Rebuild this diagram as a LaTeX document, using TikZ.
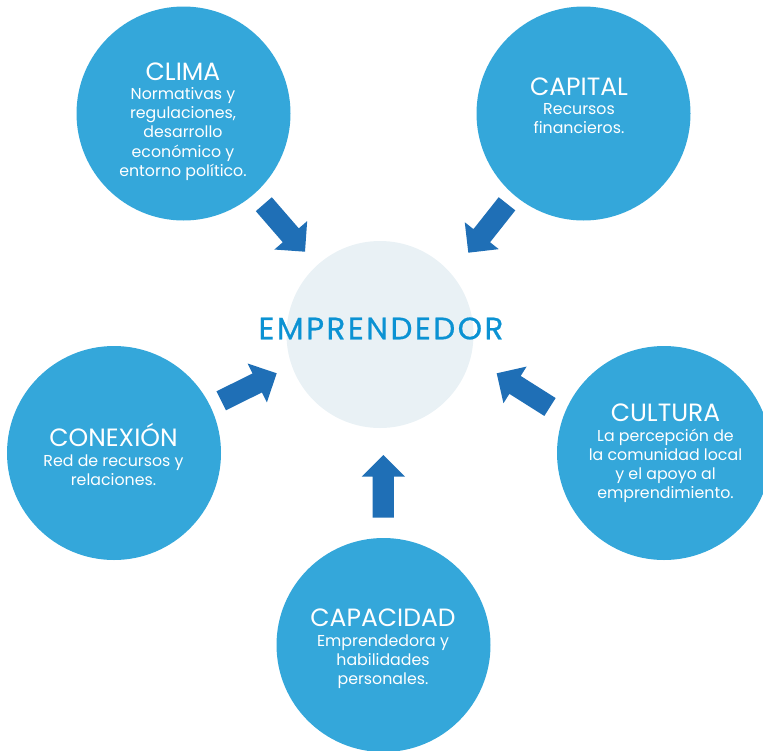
\documentclass[tikz,border=0pt]{standalone}
\usepackage{fontspec}
\setmainfont{Poppins}
\usetikzlibrary{calc}
\definecolor{cblue}{HTML}{34A7DA}
\definecolor{ablue}{HTML}{1F6FB6}
\definecolor{cpale}{HTML}{E9F1F5}
\definecolor{tblue}{HTML}{0B92D3}
\newcommand\blkarrow[2]{%
  \coordinate (#2-hb) at ($(#2)!21.7pt!(#1)$);
  \fill[arrowstyle] ($(#1)!10.6pt!90:(#2)$) -- ($(#2-hb)!10.6pt!-90:(#1)$) -- ($(#2-hb)!21.7pt!-90:(#1)$) -- (#2)
     -- ($(#2-hb)!21.7pt!90:(#1)$) -- ($(#2-hb)!10.6pt!90:(#1)$) -- ($(#1)!10.6pt!-90:(#2)$) -- cycle;}
\newcommand\circtext[2]{\begin{tabular}[t]{@{}c@{}}\smash{\fontsize{25}{25}\selectfont #1}\\ #2\end{tabular}}
\tikzset{
  bigcircle/.style={circle, fill=cblue, minimum size=214pt, inner sep=0pt},
  midcircle/.style={circle, fill=cpale, minimum size=187pt, inner sep=0pt},
  circtxt/.style={anchor=base, inner sep=0pt, text=white, font=\fontsize{15.8}{19.3}\selectfont},
  arrowstyle/.style={fill=ablue},
}
\begin{document}
\begin{tikzpicture}[x=1pt, y=-1pt]
\useasboundingbox (0,0) rectangle (763,750);
\clip (0,0) rectangle (763,750);
% circles
\node[midcircle] (emp) at (380,334.5) {};
\node[anchor=base, inner sep=0pt, text=tblue, font=\fontsize{31}{31}\selectfont\addfontfeatures{LetterSpace=8,FakeBold=0.6}] (emp-t) at (381,339.3) {EMPRENDEDOR};
\node[bigcircle] (clima) at (183.5,113.5) {};
\node[bigcircle] (capital) at (583.5,113.5) {};
\node[bigcircle] (conexion) at (114,453) {};
\node[bigcircle] (cultura) at (664,453) {};
\node[bigcircle] (capacidad) at (383.5,645) {};
% texts
\node[circtxt] (clima-t) at (183,80) {\circtext{CLIMA}{Normativas y\\regulaciones,\\desarrollo\\económico y\\entorno político.}};
\node[circtxt] (capital-t) at (579,95) {\circtext{CAPITAL}{Recursos\\financieros.}};
\node[circtxt] (conexion-t) at (113.5,446.7) {\circtext{CONEXIÓN}{Red de recursos y\\relaciones.}};
\node[circtxt] (cultura-t) at (665.5,421.7) {\circtext{CULTURA}{La percepción de\\la comunidad local\\y el apoyo al\\emprendimiento.}};
\node[circtxt] (capacidad-t) at (383,626.7) {\circtext{CAPACIDAD}{Emprendedora y\\habilidades\\personales.}};
% arrows
\coordinate (a1s) at (263.8,204.2); \coordinate (a1e) at (305,251.7);
\coordinate (a2s) at (507,203.8);   \coordinate (a2e) at (468.3,252.7);
\coordinate (a3s) at (221.2,400.8); \coordinate (a3e) at (276.7,373.3);
\coordinate (a4s) at (550,407);     \coordinate (a4e) at (496.7,373.3);
\coordinate (a5s) at (383.3,517.7); \coordinate (a5e) at (383.3,455);
\blkarrow{a1s}{a1e}
\blkarrow{a2s}{a2e}
\blkarrow{a3s}{a3e}
\blkarrow{a4s}{a4e}
\blkarrow{a5s}{a5e}
\end{tikzpicture}
\end{document}
